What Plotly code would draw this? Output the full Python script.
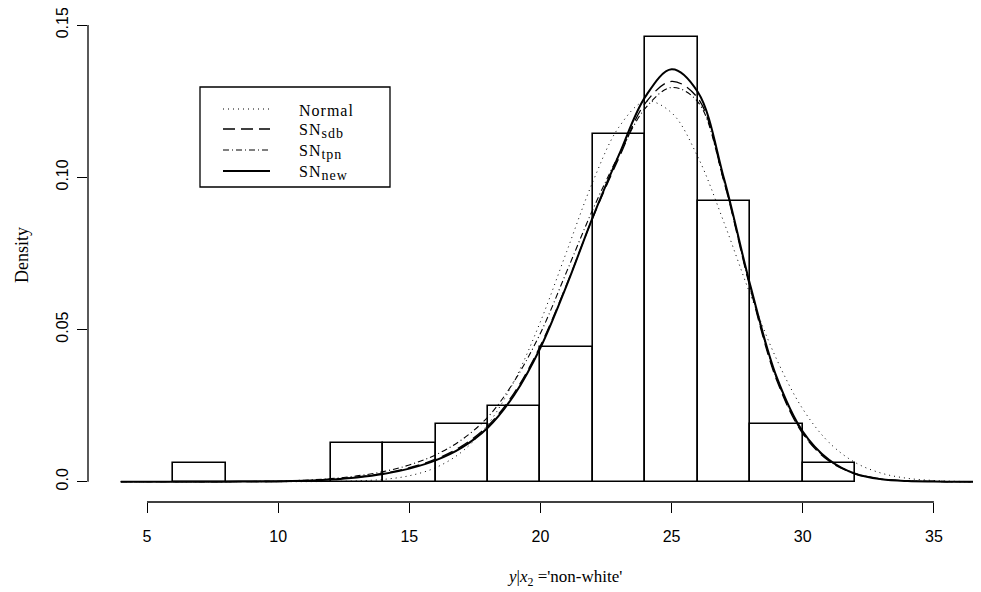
import plotly.graph_objects as go

# ---------------- data ----------------
bin_edges = [6, 8, 10, 12, 14, 16, 18, 20, 22, 24, 26, 28, 30, 32]
bin_density = [0.0062, 0.0, 0.0, 0.0126, 0.0126, 0.0188, 0.0250, 0.0442,
               0.1142, 0.1462, 0.0922, 0.0188, 0.0062]

curve_x = [4, 5, 6, 7, 8, 9, 10, 11, 12, 13, 14, 15, 16, 17, 18, 19, 20,
           21, 22, 23, 24, 25, 26, 27, 28, 29, 30, 31, 32, 33, 34, 35, 36, 37]

normal_y = [0.0, 0.0, 0.0, 0.0, 0.0, 0.0, 0.000006, 0.00002, 0.000084, 0.00028,
            0.00075, 0.00195, 0.0046, 0.0098, 0.0189, 0.0331, 0.0526,
            0.0756, 0.0986, 0.1166, 0.1250, 0.1212, 0.1067, 0.0851, 0.0615,
            0.0403, 0.0239, 0.0129, 0.0063, 0.0028, 0.0011, 0.0004, 0.0001, 0.00003]

sn_sdb_y = [0.0, 0.0, 0.0, 0.0, 0.00002, 0.00005, 0.0001, 0.0003, 0.0008, 0.0015,
            0.0027, 0.0046, 0.0074, 0.0117, 0.0184, 0.0292, 0.0447,
            0.0648, 0.0868, 0.1065, 0.1244, 0.1315, 0.1260, 0.0985, 0.0635,
            0.0335, 0.0158, 0.0068, 0.0026, 0.0009, 0.0003, 0.0001, 0.0, 0.0]

sn_tpn_y = [0.0, 0.0, 0.0, 0.00001, 0.00003, 0.00008, 0.0002, 0.0005, 0.0010, 0.0019,
            0.0033, 0.0055, 0.0088, 0.0138, 0.0213, 0.0330, 0.0488,
            0.0690, 0.0895, 0.1075, 0.1227, 0.1295, 0.1248, 0.0985, 0.0640,
            0.0340, 0.0160, 0.0070, 0.0027, 0.0009, 0.0003, 0.0001, 0.0, 0.0]

sn_new_y = [0.0, 0.0, 0.0, 0.0, 0.00002, 0.00005, 0.0001, 0.0003, 0.0007, 0.0014,
            0.0025, 0.0043, 0.0070, 0.0112, 0.0178, 0.0285, 0.0440,
            0.0645, 0.0870, 0.1075, 0.1265, 0.1355, 0.1280, 0.0995, 0.0645,
            0.0345, 0.0165, 0.0072, 0.0026, 0.0008, 0.0002, 0.00005, 0.0, 0.0]

x_ticks = [5, 10, 15, 20, 25, 30, 35]
y_ticks = [0.0, 0.05, 0.10, 0.15]
y_ticktext = ["0.0", "0.05", "0.10", "0.15"]

SUB = "<sub><span style='font-size:14px'>{}</span></sub>"
legend_labels = ["Normal", "SN" + SUB.format("sdb"), "SN" + SUB.format("tpn"),
                 "SN" + SUB.format("new")]
legend_dash = ["1px,4px", "12px,6px", "6px,3px,1px,3px", "solid"]
legend_width = [1.0, 1.3, 1.1, 2.0]
curves = [normal_y, sn_sdb_y, sn_tpn_y, sn_new_y]

# ---------------- layout geometry ----------------
# page has an 8px body margin: figure is offset by OFF px in the window
OFF = 8
WIN_W, WIN_H = 981, 592
W, H = WIN_W - OFF, WIN_H - OFF
# plot area in window pixels
PL, PR, PT, PB = 88, 981, 9, 502
L, R, T, B = PL - OFF, WIN_W - PR, PT - OFF, WIN_H - PB
PW, PH = PR - PL, PB - PT

# data <-> window pixel calibration (from reference ticks)
X5_PIX, X_PPU = 147, 26.23
Y0_PIX, Y_PPU = 481.7, 3044


def px(xpix):
    return (xpix - PL) / PW


def py(ypix):
    return (PB - ypix) / PH


SERIF = "Liberation Serif, Times New Roman, serif"
SANS = "Liberation Sans, Arial, Helvetica, sans-serif"

fig = go.Figure()

mids = [(a + b) / 2 for a, b in zip(bin_edges[:-1], bin_edges[1:])]
widths = [b - a for a, b in zip(bin_edges[:-1], bin_edges[1:])]
fig.add_trace(go.Bar(x=mids, y=bin_density, width=widths,
                     marker=dict(color="white", line=dict(color="black", width=1.6)),
                     showlegend=False, hoverinfo="skip"))

for yv, dash, w in zip(curves, legend_dash, legend_width):
    fig.add_trace(go.Scatter(x=curve_x, y=yv, mode="lines",
                             line=dict(color="black", width=w, dash=dash,
                                       shape="spline", smoothing=1.0),
                             showlegend=False, hoverinfo="skip"))

shapes = []
# R-style axis lines spanning the tick range
shapes.append(dict(type="line", xref="x", yref="paper", x0=min(x_ticks), x1=max(x_ticks),
                   y0=0, y1=0, line=dict(color="black", width=1.3)))
shapes.append(dict(type="line", xref="paper", yref="y", x0=0, x1=0,
                   y0=min(y_ticks), y1=max(y_ticks), line=dict(color="black", width=1.3)))

# legend box
shapes.append(dict(type="rect", xref="paper", yref="paper",
                   x0=px(200), x1=px(390), y0=py(187), y1=py(87),
                   line=dict(color="black", width=1.3), fillcolor="white", layer="above"))
annotations = []
row_y = [109, 129, 150, 171]
for i, lab in enumerate(legend_labels):
    shapes.append(dict(type="line", xref="paper", yref="paper",
                       x0=px(223), x1=px(270), y0=py(row_y[i]), y1=py(row_y[i]),
                       line=dict(color="black", width=legend_width[i], dash=legend_dash[i]),
                       layer="above"))
    annotations.append(dict(xref="paper", yref="paper", x=px(297), y=py(row_y[i] + 2),
                            text="<span style='letter-spacing:1px'>" + lab + "</span>",
                            showarrow=False, xanchor="left", yanchor="middle",
                            font=dict(family=SERIF, size=16, color="black")))

annotations.append(dict(xref="paper", yref="paper", x=px(564), y=py(578),
                        text="<i>y</i>|<i>x</i><sub>2</sub> ='non-white'",
                        showarrow=False, xanchor="center", yanchor="middle",
                        font=dict(family=SERIF, size=17, color="black")))
annotations.append(dict(xref="paper", yref="paper", x=px(22), y=py(255),
                        text="Density", textangle=-90,
                        showarrow=False, xanchor="center", yanchor="middle",
                        font=dict(family=SERIF, size=18, color="black")))

fig.update_layout(
    width=W, height=H,
    margin=dict(l=L, r=R, t=T, b=B, pad=0, autoexpand=False),
    paper_bgcolor="white", plot_bgcolor="white",
    shapes=shapes, annotations=annotations,
    bargap=0, showlegend=False,
    xaxis=dict(range=[5 - (X5_PIX - PL) / X_PPU, 5 + (PR - X5_PIX) / X_PPU],
               tickvals=x_ticks, ticktext=[str(v) for v in x_ticks],
               ticks="outside", ticklen=10, tickwidth=1.3, tickcolor="black",
               ticklabelstandoff=10, ticklabeloverflow="allow",
               showline=False, showgrid=False, zeroline=False, automargin=False,
               tickfont=dict(family=SANS, size=16, color="black")),
    yaxis=dict(range=[-(PB - Y0_PIX) / Y_PPU, (Y0_PIX - PT) / Y_PPU],
               tickvals=y_ticks, ticktext=y_ticktext, tickangle=-90,
               ticks="outside", ticklen=10, tickwidth=1.3, tickcolor="black",
               ticklabelstandoff=3, ticklabeloverflow="allow",
               showline=False, showgrid=False, zeroline=False, automargin=False,
               tickfont=dict(family=SANS, size=16, color="black")),
)

fig.write_html("out.html")
